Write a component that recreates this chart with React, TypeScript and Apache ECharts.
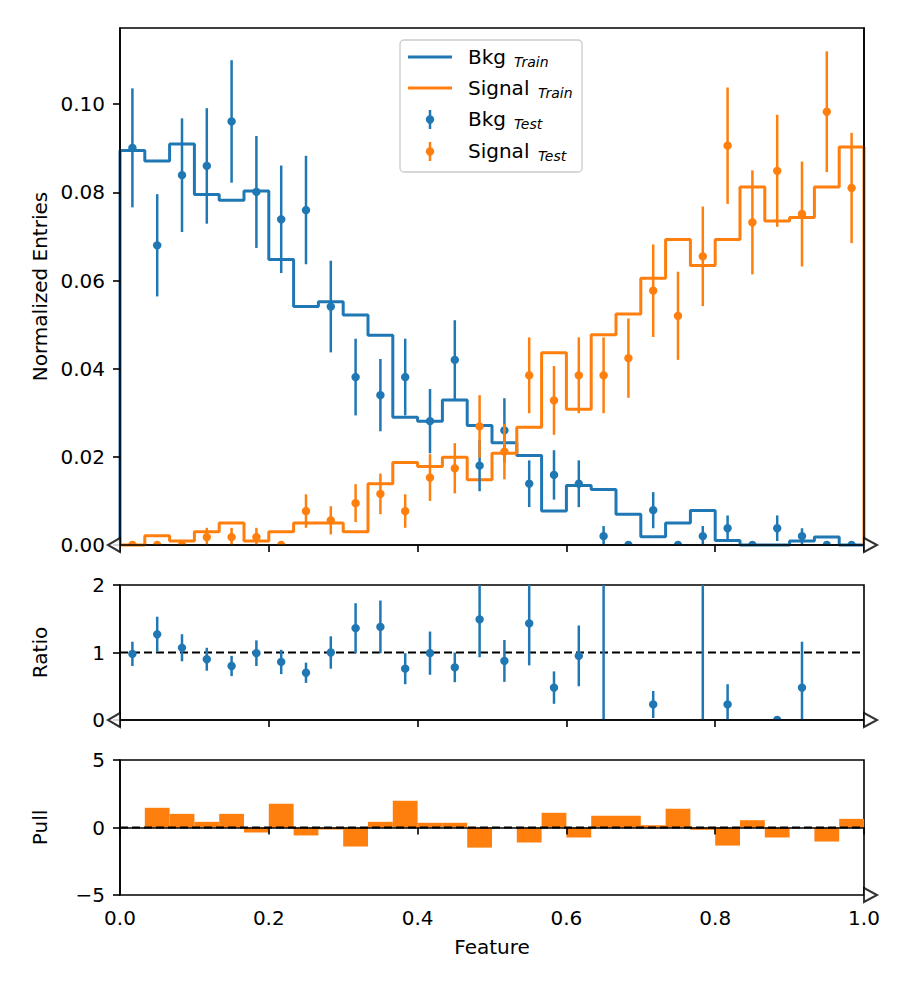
import { useEffect, useRef } from 'react';
import * as echarts from 'echarts';

const BLUE = '#1f77b4';
const ORANGE = '#ff7f0e';
const INK = '#000';
const FONT = 'DejaVu Sans';

// 30 equal-width bins on [0, 1]
const BIN_COUNT = 30;
const X_MIN = 0;
const X_MAX = 1;

const bkgTrain = [0.0895, 0.0871, 0.091, 0.0795, 0.0782, 0.0803, 0.0648, 0.0541, 0.0552, 0.0522, 0.0476, 0.029, 0.0281, 0.0329, 0.0271, 0.0232, 0.0203, 0.0077, 0.0135, 0.0126, 0.007, 0.0019, 0.005, 0.0078, 0.001, 0, 0, 0.0009, 0.0018, 0];
const sigTrain = [0, 0.0021, 0.0009, 0.003, 0.005, 0.0009, 0.003, 0.005, 0.005, 0.003, 0.0139, 0.0187, 0.0178, 0.0199, 0.0148, 0.0208, 0.0267, 0.0436, 0.0308, 0.0477, 0.0524, 0.0605, 0.0693, 0.0634, 0.0693, 0.0812, 0.0735, 0.0743, 0.0812, 0.0903];

const bkgTest = [0.0901, 0.068, 0.0839, 0.086, 0.0961, 0.0801, 0.0739, 0.076, 0.0541, 0.0381, 0.034, 0.0381, 0.0281, 0.042, 0.018, 0.026, 0.0139, 0.0159, 0.0139, 0.002, 0, 0.0079, 0, 0.002, 0.0038, 0, 0.0038, 0.002, 0, 0];
const bkgTestErr = [0.0135, 0.0116, 0.0129, 0.0131, 0.0139, 0.0127, 0.0122, 0.0123, 0.0104, 0.0087, 0.0082, 0.0087, 0.0073, 0.009, 0.0058, 0.0073, 0.0053, 0.0056, 0.0053, 0.0023, 0, 0.0041, 0, 0.0023, 0.0029, 0, 0.0029, 0.0018, 0, 0];
const sigTest = [0, 0, 0, 0.0018, 0.0018, 0.0018, 0, 0.0077, 0.0056, 0.0095, 0.0116, 0.0077, 0.0153, 0.0174, 0.0269, 0.0212, 0.0385, 0.0328, 0.0385, 0.0385, 0.0424, 0.0577, 0.052, 0.0655, 0.0906, 0.0732, 0.0849, 0.0751, 0.0983, 0.081];
const sigTestErr = [0, 0, 0, 0.0021, 0.0021, 0.0021, 0, 0.0038, 0.0032, 0.0043, 0.0046, 0.0038, 0.0053, 0.0057, 0.0071, 0.0063, 0.0086, 0.0078, 0.0086, 0.0086, 0.009, 0.0105, 0.01, 0.0113, 0.0132, 0.0118, 0.0127, 0.0119, 0.0137, 0.0125];

// null = no point; 3 = off the top of the panel
const ratio = [0.98, 1.27, 1.07, 0.9, 0.8, 0.99, 0.86, 0.7, 1.0, 1.36, 1.38, 0.76, 0.99, 0.78, 1.49, 0.875, 1.43, 0.48, 0.95, 3, null, 0.23, null, 3, 0.23, null, 0, 0.48, null, null];
const ratioErr = [0.18, 0.26, 0.2, 0.17, 0.15, 0.19, 0.18, 0.15, 0.24, 0.37, 0.39, 0.23, 0.32, 0.22, 0.56, 0.31, 0.62, 0.24, 0.45, 4, 0, 0.2, 0, 4, 0.3, 0, 0, 0.68, 0, 0];

const pull = [0, 1.46, 1.01, 0.42, 1.01, -0.37, 1.76, -0.59, -0.15, -1.41, 0.42, 1.98, 0.35, 0.35, -1.49, 0, -1.11, 1.09, -0.74, 0.87, 0.87, 0.17, 1.39, -0.17, -1.34, 0.54, -0.74, 0, -1.04, 0.64];

const mainYTicks = [0, 0.02, 0.04, 0.06, 0.08, 0.1];
const MAIN_Y_MAX = 0.1173;
const RATIO_REF = 1;
const PULL_REF = 0;

const edges = Array.from({ length: BIN_COUNT + 1 }, (_, i) => X_MIN + ((X_MAX - X_MIN) * i) / BIN_COUNT);
const centers = edges.slice(0, BIN_COUNT).map((e, i) => (e + edges[i + 1]) / 2);

const stepData = (vals: number[]) => [
  [edges[0], 0],
  ...vals.map((v, i) => [edges[i], v]),
  [edges[BIN_COUNT], vals[BIN_COUNT - 1]],
  [edges[BIN_COUNT], 0],
];

const errData = (vals: (number | null)[], errs: number[]) =>
  vals
    .map((v, i) => (v === null ? null : [centers[i], v, errs[i]]))
    .filter((d) => d !== null) as number[][];

const errorBarRender = (color: string) => (_params: any, api: any) => {
  const x = api.value(0);
  const y = api.value(1);
  const e = api.value(2);
  const p = api.coord([x, y]);
  const lo = api.coord([x, y - e]);
  const hi = api.coord([x, y + e]);
  return {
    type: 'group',
    children: [
      { type: 'line', shape: { x1: p[0], y1: lo[1], x2: p[0], y2: hi[1] }, style: { stroke: color, lineWidth: 2.5 } },
      { type: 'circle', shape: { cx: p[0], cy: p[1], r: 4.2 }, style: { fill: color } },
    ],
  };
};

const LEFT_TRI = 'path://M12,0 L0,7 L12,14 Z';
const RIGHT_TRI = 'path://M0,0 L13,7 L0,14 Z';

const markerSeries = (gridIdx: number, pt: number[], side: 'left' | 'right') => ({
  type: 'scatter',
  xAxisIndex: gridIdx,
  yAxisIndex: gridIdx,
  data: [pt],
  symbol: side === 'left' ? LEFT_TRI : RIGHT_TRI,
  symbolSize: side === 'left' ? [12, 14] : [13, 14],
  symbolOffset: side === 'left' ? [-6, 0] : [6.5, 0],
  itemStyle: { color: '#fff', borderColor: INK, borderWidth: 2 },
  clip: false,
  silent: true,
  z: 20,
});

const axisLineStyle = { show: true, lineStyle: { color: INK, width: 1.6 } };
const tickStyle = { show: true, length: 7, lineStyle: { color: INK, width: 1.6 } };
const labelStyle = { color: INK, fontSize: 20, fontFamily: FONT };
const nameStyle = { color: INK, fontSize: 20, fontFamily: FONT };

const legendRow = (y: number, label: string, sub: string, subX: number) => [
  { type: 'text', x: 468, y, style: { text: label, fill: INK, font: `20px "${FONT}"`, verticalAlign: 'middle' } },
  { type: 'text', x: subX, y: y + 5, style: { text: sub, fill: INK, font: `italic 14px "${FONT}"`, verticalAlign: 'middle' } },
];

const legendGraphics = [
  {
    type: 'rect',
    shape: { x: 400, y: 40, width: 182, height: 132, r: 4 },
    style: { fill: 'rgba(255,255,255,0.8)', stroke: '#cccccc', lineWidth: 1.3 },
  },
  { type: 'line', shape: { x1: 408, y1: 57, x2: 452, y2: 57 }, style: { stroke: BLUE, lineWidth: 3 } },
  { type: 'line', shape: { x1: 408, y1: 88, x2: 452, y2: 88 }, style: { stroke: ORANGE, lineWidth: 3 } },
  { type: 'line', shape: { x1: 430, y1: 110, x2: 430, y2: 129 }, style: { stroke: BLUE, lineWidth: 2.5 } },
  { type: 'circle', shape: { cx: 430, cy: 119.5, r: 4.2 }, style: { fill: BLUE } },
  { type: 'line', shape: { x1: 430, y1: 142, x2: 430, y2: 161 }, style: { stroke: ORANGE, lineWidth: 2.5 } },
  { type: 'circle', shape: { cx: 430, cy: 151.5, r: 4.2 }, style: { fill: ORANGE } },
  ...legendRow(57, 'Bkg', 'Train', 514),
  ...legendRow(88, 'Signal', 'Train', 538),
  ...legendRow(119, 'Bkg', 'Test', 514),
  ...legendRow(151, 'Signal', 'Test', 538),
];

export default function App() {
  const chartRef = useRef<HTMLDivElement>(null);

  useEffect(() => {
    if (!chartRef.current) return;
    const chart = echarts.init(chartRef.current, undefined, { renderer: 'svg' });

    const gridBase = {
      left: 120,
      width: 744,
      show: true,
      borderColor: INK,
      borderWidth: 1.6,
      backgroundColor: 'transparent',
      outerBoundsMode: 'none',
    };

    const xAxisBase = (gridIndex: number, showLabel: boolean) => ({
      type: 'value',
      gridIndex,
      min: X_MIN,
      max: X_MAX,
      interval: 0.2,
      z: 10,
      axisLine: axisLineStyle,
      axisTick: tickStyle,
      splitLine: { show: false },
      axisLabel: {
        show: showLabel,
        ...labelStyle,
        margin: 13,
        formatter: (v: number) => v.toFixed(1),
      },
    });

    const option: any = {
      animation: false,
      textStyle: { fontFamily: FONT },
      grid: [
        { ...gridBase, top: 28, height: 517 },
        { ...gridBase, top: 585, height: 135 },
        { ...gridBase, top: 760, height: 135 },
      ],
      xAxis: [
        xAxisBase(0, false),
        xAxisBase(1, false),
        {
          ...xAxisBase(2, true),
          name: 'Feature',
          nameLocation: 'middle',
          nameGap: 42,
          nameTextStyle: nameStyle,
        },
      ],
      yAxis: [
        {
          type: 'value',
          gridIndex: 0,
          min: 0,
          max: MAIN_Y_MAX,
          z: 10,
          axisLine: axisLineStyle,
          axisTick: { ...tickStyle, customValues: mainYTicks },
          splitLine: { show: false },
          axisLabel: {
            ...labelStyle,
            margin: 15,
            customValues: mainYTicks,
            formatter: (v: number) => v.toFixed(2),
          },
          name: 'Normalized Entries',
          nameLocation: 'middle',
          nameGap: 70,
          nameTextStyle: nameStyle,
        },
        {
          type: 'value',
          gridIndex: 1,
          min: 0,
          max: 2,
          interval: 1,
          z: 10,
          axisLine: axisLineStyle,
          axisTick: tickStyle,
          splitLine: { show: false },
          axisLabel: { ...labelStyle, margin: 15 },
          name: 'Ratio',
          nameLocation: 'middle',
          nameGap: 70,
          nameTextStyle: nameStyle,
        },
        {
          type: 'value',
          gridIndex: 2,
          min: -5,
          max: 5,
          interval: 5,
          z: 10,
          axisLine: axisLineStyle,
          axisTick: tickStyle,
          splitLine: { show: false },
          axisLabel: {
            ...labelStyle,
            margin: 15,
            formatter: (v: number) => (v < 0 ? '\u2212' + Math.abs(v) : String(v)),
          },
          name: 'Pull',
          nameLocation: 'middle',
          nameGap: 70,
          nameTextStyle: nameStyle,
        },
        {
          // right-hand frame of the main panel, drawn above the step lines
          type: 'value',
          gridIndex: 0,
          position: 'right',
          min: 0,
          max: MAIN_Y_MAX,
          z: 10,
          axisLine: axisLineStyle,
          axisTick: { show: false },
          axisLabel: { show: false },
          splitLine: { show: false },
        },
      ],
      graphic: legendGraphics.map((g) => ({ ...g, z: 100 })),
      series: [
        {
          name: 'Bkg Train',
          type: 'line',
          xAxisIndex: 0,
          yAxisIndex: 0,
          step: 'end',
          data: stepData(bkgTrain),
          symbol: 'none',
          lineStyle: { color: BLUE, width: 3 },
          clip: false,
          z: 2,
        },
        {
          name: 'Signal Train',
          type: 'line',
          xAxisIndex: 0,
          yAxisIndex: 0,
          step: 'end',
          data: stepData(sigTrain),
          symbol: 'none',
          lineStyle: { color: ORANGE, width: 3 },
          clip: false,
          z: 3,
        },
        {
          name: 'Bkg Test',
          type: 'custom',
          xAxisIndex: 0,
          yAxisIndex: 0,
          data: errData(bkgTest, bkgTestErr),
          encode: { x: 0, y: 1 },
          renderItem: errorBarRender(BLUE),
          clip: true,
          z: 4,
        },
        {
          name: 'Signal Test',
          type: 'custom',
          xAxisIndex: 0,
          yAxisIndex: 0,
          data: errData(sigTest, sigTestErr),
          encode: { x: 0, y: 1 },
          renderItem: errorBarRender(ORANGE),
          clip: true,
          z: 5,
        },
        {
          type: 'line',
          xAxisIndex: 1,
          yAxisIndex: 1,
          data: [[X_MIN, RATIO_REF], [X_MAX, RATIO_REF]],
          symbol: 'none',
          lineStyle: { color: INK, width: 2, type: [8, 4] },
          z: 3,
        },
        {
          name: 'Ratio',
          type: 'custom',
          xAxisIndex: 1,
          yAxisIndex: 1,
          data: errData(ratio, ratioErr),
          encode: { x: 0, y: 1 },
          renderItem: errorBarRender(BLUE),
          clip: true,
          z: 4,
        },
        {
          name: 'Pull',
          type: 'custom',
          xAxisIndex: 2,
          yAxisIndex: 2,
          data: pull.map((v, i) => [edges[i], edges[i + 1], v]),
          encode: { x: [0, 1], y: 2 },
          renderItem: (_params: any, api: any) => {
            const p0 = api.coord([api.value(0), 0]);
            const p1 = api.coord([api.value(1), api.value(2)]);
            return {
              type: 'rect',
              shape: {
                x: p0[0],
                y: Math.min(p0[1], p1[1]),
                width: p1[0] - p0[0],
                height: Math.abs(p1[1] - p0[1]),
              },
              style: { fill: ORANGE },
            };
          },
          clip: true,
          z: 2,
        },
        {
          type: 'line',
          xAxisIndex: 2,
          yAxisIndex: 2,
          data: [[X_MIN, PULL_REF], [X_MAX, PULL_REF]],
          symbol: 'none',
          lineStyle: { color: INK, width: 2, type: [8, 4] },
          z: 3,
        },
        markerSeries(0, [X_MIN, 0], 'left'),
        markerSeries(0, [X_MAX, 0], 'right'),
        markerSeries(1, [X_MIN, 0], 'left'),
        markerSeries(1, [X_MAX, 0], 'right'),
        markerSeries(2, [X_MAX, -5], 'right'),
      ],
    };

    chart.setOption(option);

    return () => {
      chart.dispose();
    };
  }, []);

  return (
    <div
      ref={chartRef}
      style={{ position: 'absolute', left: 0, top: 0, width: 910, height: 990, background: '#fff' }}
    />
  );
}
